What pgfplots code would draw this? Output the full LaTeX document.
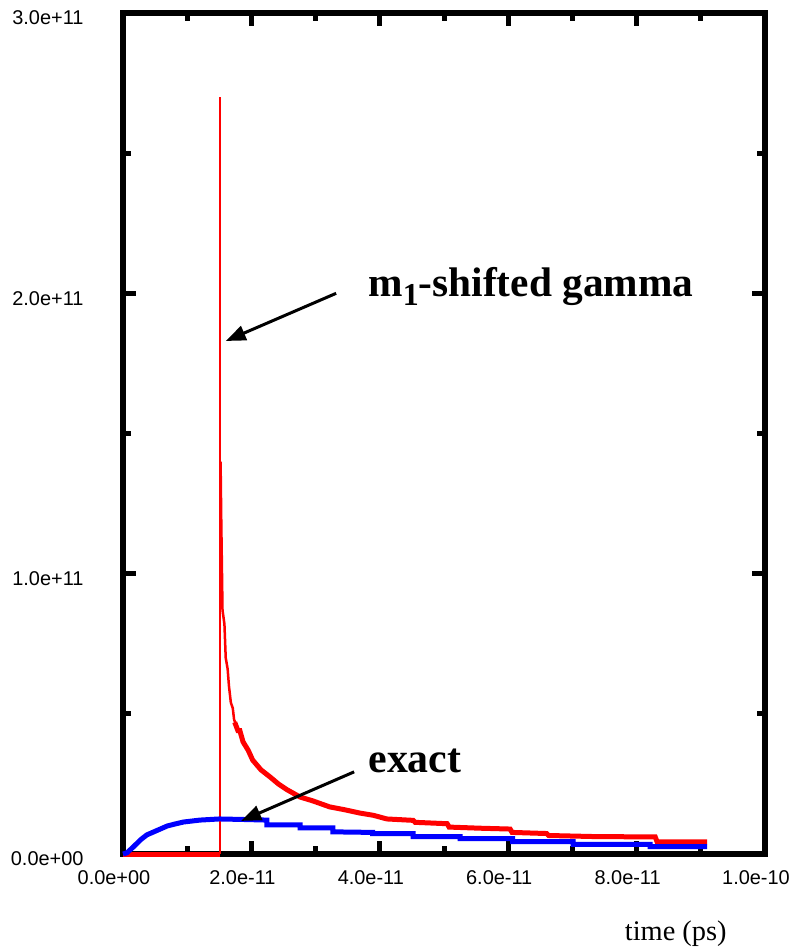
\documentclass[border=0pt]{standalone}
\usepackage{fontspec}
\setmainfont{Liberation Serif}
\newfontfamily\arialfont{Liberation Sans}
\usepackage{pgfplots}
\pgfplotsset{compat=1.18}
\usetikzlibrary{arrows.meta}

\begin{document}
\begin{tikzpicture}
\useasboundingbox (-123bp,-95bp) rectangle (682bp,854bp);
\begin{axis}[
  at={(0,0)},anchor=south west,
  width=642bp,height=854bp-13bp,scale only axis,
  xmin=0,xmax=1e-10,ymin=0,ymax=3e11,
  clip=false,scaled ticks=false,
  axis line style={line width=6bp,line cap=rect},
  tick style={line width=5bp,black},
  major tick length=13bp,minor tick length=8bp,
  xtick={0,2e-11,4e-11,6e-11,8e-11,1e-10},
  xticklabels={0.0e+00,2.0e-11,4.0e-11,6.0e-11,8.0e-11,1.0e-10},
  minor xtick={1e-11,3e-11,5e-11,7e-11,9e-11},
  ytick={0,1e11,2e11,3e11},
  yticklabels={0.0e+00,1.0e+11,2.0e+11,3.0e+11},
  minor ytick={0.5e11,1.5e11,2.5e11},
  ticklabel style={font=\arialfont\fontsize{20}{20}\selectfont},
  xticklabel style={xshift=-9bp,yshift=-13bp},
  yticklabel style={xshift=-36bp,yshift=-5bp},
  xlabel={time (ps)},
  xlabel style={at={(axis description cs:0.861,0)},anchor=base,yshift=-86bp,
    font=\fontsize{28.5}{28.5}\selectfont},
]
% m1-shifted gamma: zero part, spike, decay
\addplot[red,line width=5bp] coordinates {(0,0) (1.51e-11,0)};
\addplot[red,line width=1.2bp] coordinates {(1.51e-11,0) (1.51e-11,2.70e11)};
\addplot[red,line width=2.5bp] coordinates {
(1.52e-11,1.40e11) (1.53e-11,1.20e11) (1.55e-11,0.87e11) (1.58e-11,0.82e11)
(1.60e-11,0.70e11) (1.63e-11,0.66e11) (1.65e-11,0.60e11) (1.68e-11,0.54e11)
(1.71e-11,0.52e11) (1.73e-11,0.48e11) (1.76e-11,0.46e11)};
\addplot[red,line width=5bp] coordinates {
(1.74e-11,0.47e11) (1.79e-11,0.44e11) (1.82e-11,0.44e11) (1.87e-11,0.40e11)
(1.95e-11,0.37e11) (2.02e-11,0.335e11) (2.15e-11,0.30e11) (2.29e-11,0.275e11)
(2.42e-11,0.25e11) (2.55e-11,0.23e11) (2.76e-11,0.203e11) (2.95e-11,0.19e11)
(3.22e-11,0.168e11) (3.45e-11,0.158e11) (3.69e-11,0.146e11) (3.90e-11,0.138e11)
(4.11e-11,0.125e11) (4.52e-11,0.120e11) (4.55e-11,0.113e11) (5.05e-11,0.108e11)
(5.08e-11,0.096e11) (5.56e-11,0.092e11) (6.03e-11,0.089e11) (6.06e-11,0.077e11)
(6.60e-11,0.073e11) (6.63e-11,0.066e11) (7.38e-11,0.062e11) (8.29e-11,0.061e11)
(8.32e-11,0.043e11) (9.10e-11,0.043e11)};
% exact
\addplot[blue,line width=5bp] coordinates {
(0,0) (0.06e-11,0.004e11) (0.16e-11,0.025e11) (0.27e-11,0.05e11) (0.37e-11,0.068e11)
(0.47e-11,0.078e11) (0.58e-11,0.089e11) (0.69e-11,0.10e11) (0.81e-11,0.107e11)
(0.94e-11,0.114e11) (1.20e-11,0.121e11) (1.50e-11,0.125e11) (1.90e-11,0.123e11)
(2.24e-11,0.121e11) (2.24e-11,0.104e11) (2.76e-11,0.104e11) (2.76e-11,0.093e11)
(3.27e-11,0.093e11) (3.27e-11,0.079e11) (3.89e-11,0.077e11) (3.89e-11,0.073e11)
(4.52e-11,0.073e11) (4.52e-11,0.062e11) (5.25e-11,0.062e11) (5.25e-11,0.055e11)
(6.07e-11,0.055e11) (6.07e-11,0.044e11) (7.01e-11,0.044e11) (7.01e-11,0.034e11)
(8.21e-11,0.034e11) (8.21e-11,0.026e11) (9.10e-11,0.026e11)};
% annotations
\node[anchor=base west,inner sep=0pt,font=\bfseries\fontsize{41.5}{41.5}\selectfont]
  at (axis cs:3.82e-11,1.99e11) {m\raisebox{-9bp}{\fontsize{32}{32}\selectfont 1}-shifted gamma};
\node[anchor=base west,inner sep=0pt,font=\bfseries\fontsize{42}{42}\selectfont]
  at (axis cs:3.82e-11,0.289e11) {exact};
\draw[line width=3bp,-{Triangle[length=20bp,width=15bp]}]
  (axis cs:3.32e-11,2.00e11) -- (axis cs:1.60e-11,1.83e11);
\draw[line width=3bp,-{Triangle[length=20bp,width=15bp]}]
  (axis cs:3.60e-11,0.293e11) -- (axis cs:1.84e-11,0.118e11);
\end{axis}
\end{tikzpicture}
\end{document}
